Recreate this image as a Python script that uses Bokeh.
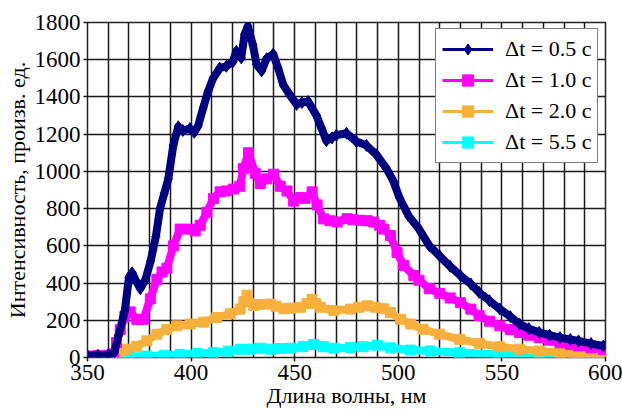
from bokeh.plotting import figure
from bokeh.models import Range1d, FixedTicker, Legend, LegendItem
from bokeh.embed import file_html
from bokeh.resources import INLINE

# ---- data ----
wl_05 = [350, 355, 360, 363, 365, 368, 370, 371.5, 373, 375.5, 378, 380.5, 383, 385, 387, 389,
         391.4, 393.8, 396, 399.4, 401.5, 403.4, 405.8, 408.2, 410.6, 413.8, 417, 420.2, 421.8,
         424.2, 425.8, 427.4, 429.8, 431.6, 434, 436.4, 439.6, 442, 444.5, 447.7, 450.9, 453.5,
         456.5, 460.5, 463, 465.3, 468, 470.2, 475, 479.8, 484.6, 489.4, 494.3, 497.5, 500.5,
         505, 510, 515, 520, 525, 530, 535, 539, 544, 549, 554, 558.5, 563, 568, 573, 578, 583,
         587, 593, 599]
i_05 = [10, 12, 15, 30, 120, 250, 430, 455, 420, 370, 420, 520, 650, 800, 880, 960,
        1140, 1240, 1220, 1230, 1210, 1245, 1340, 1430, 1500, 1555, 1565, 1590, 1645,
        1610, 1735, 1780, 1680, 1575, 1540, 1605, 1630, 1555, 1465, 1410, 1360, 1370,
        1375, 1300, 1230, 1165, 1180, 1195, 1205, 1160, 1140, 1090, 1015, 950, 860,
        760, 690, 600, 545, 490, 440, 395, 350, 305, 260, 220, 180, 155, 135, 120, 107, 97,
        89, 75, 62]

wl_10 = [350, 355, 360, 362.5, 364, 365.8, 368, 370.6, 373.8, 377, 380.3, 383.5, 386, 388.3,
         391.5, 394.7, 399.5, 402, 404.4, 407.6, 410.8, 414, 417, 420.5, 423.5, 425.3, 427.7,
         430.9, 433.4, 436.5, 439.8, 443, 446.3, 449.5, 452.7, 455, 458.4, 460.8, 464, 467,
         470.5, 475.3, 478, 481.7, 485, 488.1, 491, 493, 496.2, 499.4, 502.6, 507.5, 510, 515,
         520, 525, 530, 535, 539, 544, 549, 554, 558.5, 563, 568, 573, 578, 583, 587, 593, 599]
i_10 = [8, 10, 12, 20, 80, 150, 220, 245, 205, 205, 315, 420, 460, 480,
        600, 690, 690, 680, 710, 780, 855, 890, 895, 905, 920, 1015, 1100,
        990, 935, 960, 985, 920, 895, 840, 860, 855, 890, 820, 745, 735,
        728, 746, 740, 737, 735, 728, 710, 690, 655, 565, 495, 440, 415, 370,
        345, 320, 295, 260, 225, 195, 170, 150, 134, 120, 107, 93, 80, 70, 62, 52, 44]

wl_20 = [350, 355, 360, 363.7, 366, 369, 373.8, 378.7, 383.5, 388.3, 393.1, 399.5, 406, 412.4,
         418.9, 423.7, 425.5, 427, 430, 433.4, 438.3, 441, 444.7, 448, 452.8, 456, 458.4, 460,
         462.4, 468.9, 476.9, 481, 485, 489, 493, 496.2, 501, 506, 512, 519.9, 529.6, 539.2,
         548.9, 558.5, 568, 578, 587, 599]
i_20 = [5, 8, 10, 15, 35, 45, 60, 90, 125, 150, 170, 180, 190, 215,
        235, 260, 300, 335, 280, 285, 287, 275, 262, 265, 270, 290, 312, 290,
        270, 252, 260, 270, 278, 270, 262, 242, 206, 180, 152, 125, 98, 76,
        58, 45, 35, 27, 21, 17]

wl_55 = [350, 360, 370, 378.7, 387, 394.7, 403, 410.8, 418, 423.7, 428.6, 433.3, 438.3, 443,
         448, 454, 459.2, 464, 468.9, 476.9, 483, 489.8, 496.2, 505.9, 515.5, 529.6, 548.9,
         568, 585, 599]
i_55 = [3, 4, 6, 8, 12, 17, 22, 26, 34, 44, 45, 50, 45, 48,
        50, 58, 70, 58, 50, 53, 58, 66, 52, 40, 35, 26, 17,
        9, 4, 2]

labels = ["Δt = 0.5 c", "Δt = 1.0 c", "Δt = 2.0 c", "Δt = 5.5 c"]
colors = ["#000080", "#FF00FF", "#F7B03C", "#00FFFF"]
markers = ["diamond", "square", "square", "square"]
x_ticks = [350, 400, 450, 500, 550, 600]
y_ticks = [0, 200, 400, 600, 800, 1000, 1200, 1400, 1600, 1800]
x_grid = list(range(350, 601, 10))

FONT = "Liberation Serif"

p = figure(width=622, height=415, output_backend="svg", toolbar_location=None,
           x_range=Range1d(350, 600), y_range=Range1d(0, 1800),
           min_border_left=87, min_border_right=17, min_border_top=22, min_border_bottom=58)
p.background_fill_color = "white"
p.border_fill_color = "white"
p.outline_line_color = "#222222"
p.outline_line_width = 1.5

p.xaxis.ticker = FixedTicker(ticks=x_ticks)
p.yaxis.ticker = FixedTicker(ticks=y_ticks)
p.xgrid.ticker = FixedTicker(ticks=x_grid)
p.ygrid.ticker = FixedTicker(ticks=y_ticks)
for g in (p.xgrid, p.ygrid):
    g.grid_line_color = "#1a1a1a"
    g.grid_line_width = 1.5
    g.grid_line_alpha = 1.0

for ax in (p.xaxis, p.yaxis):
    ax.axis_line_color = None
    ax.major_tick_in = 0
    ax.major_tick_out = 4
    ax.major_tick_line_color = "#1a1a1a"
    ax.major_tick_line_width = 1.5
    ax.minor_tick_line_color = None
    ax.major_label_text_font = FONT
    ax.major_label_text_font_size = "23px"
    ax.major_label_text_color = "black"
    ax.axis_label_text_font = FONT
    ax.axis_label_text_font_size = "22px"
    ax.axis_label_text_font_style = "normal"
    ax.axis_label_text_color = "black"

p.xaxis.axis_label = "Длина волны, нм"
p.yaxis.axis_label = "Интенсивность, произв. ед."
p.xaxis.major_label_standoff = 3
p.yaxis.major_label_standoff = 3
p.xaxis.axis_label_standoff = 0
p.yaxis.axis_label_standoff = 2

series = [(wl_05, i_05), (wl_10, i_10), (wl_20, i_20), (wl_55, i_55)]
items = [None] * 4
for k in [3, 2, 1, 0]:
    wl, iv = series[k]
    c = colors[k]
    p.line(wl, iv, line_color=c, line_width=8, line_join="round")
    thin = p.line(wl, iv, line_color=c, line_width=3, line_join="round")
    sr = p.scatter(wl, iv, marker=markers[k], size=12 if k == 0 else 10,
                   fill_color=c, line_color=c)
    items[k] = LegendItem(label=labels[k], renderers=[thin, sr])

legend = Legend(items=items, location=(348, 194))
legend.label_text_font = FONT
legend.label_text_font_size = "22px"
legend.label_text_color = "black"
legend.glyph_width = 51
legend.glyph_height = 28
legend.label_standoff = 12
legend.spacing = 3
legend.padding = 6
legend.margin = 0
legend.border_line_color = "black"
legend.border_line_width = 1.5
legend.background_fill_color = "white"
legend.background_fill_alpha = 1.0
p.add_layout(legend, "center")

open("out.html", "w").write(file_html(p, INLINE))
